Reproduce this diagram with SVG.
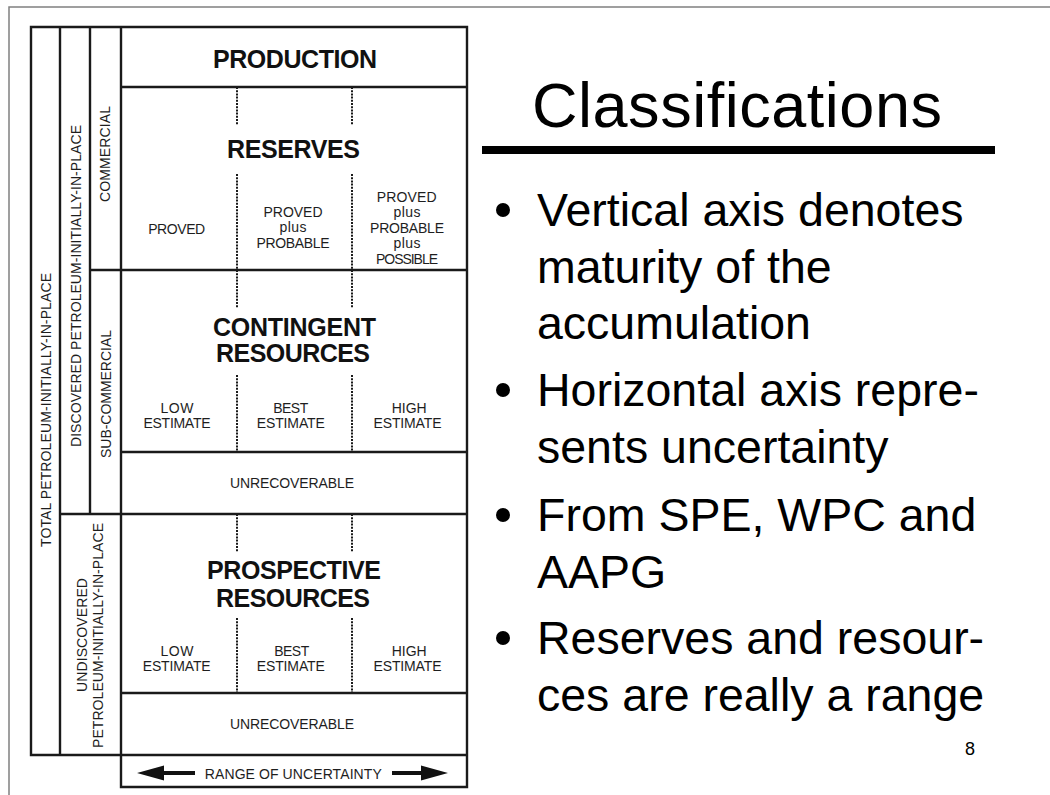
<svg xmlns="http://www.w3.org/2000/svg" width="1050" height="795" viewBox="0 0 1050 795">
<style>
.ln{stroke:#1a1a1a;stroke-width:2.4;fill:none;stroke-linecap:square}
.dt{stroke:#1a1a1a;stroke-width:2;fill:none;stroke-dasharray:2 1.2}
.big{font-family:"Liberation Sans",Arial,sans-serif;font-weight:bold;font-size:25px;fill:#111;text-anchor:middle}
.sm{font-family:"Liberation Sans",Arial,sans-serif;font-size:14px;fill:#1e1e1e;text-anchor:middle}
.vt{font-family:"Liberation Sans",Arial,sans-serif;font-size:14px;fill:#1e1e1e;text-anchor:middle}
.bl{font-family:"Liberation Sans",Arial,sans-serif;font-size:46.5px;fill:#000}
.ttl{font-family:"Liberation Sans",Arial,sans-serif;font-size:63px;fill:#000}
</style>
<rect x="0" y="0" width="1050" height="795" fill="#fff"/>
<g id="slide-frame"><path d="M9 795V7H1050" stroke="#808080" stroke-width="1.5" fill="none"/></g>

<g id="grid">
<path class="ln" d="M31 27H467V787H121V27M31 27V755H467M60 27V755M90 27V514M121 87H467M90 270H467M121 452H467M60 514H467M121 693H467"/>
</g>

<g id="connectors">
<path class="dt" d="M237 87V125M352 87V125M237 174V270M352 174V270M237 270V308M352 270V308M237 375V452M352 375V452M237 514V552M352 514V552M237 618V693M352 618V693"/>
</g>

<g id="axis-total">
<text class="vt" transform="translate(50.5,410) rotate(-90)" textLength="274" lengthAdjust="spacing">TOTAL PETROLEUM-INITIALLY-IN-PLACE</text>
</g>
<g id="axis-discovered">
<text class="vt" transform="translate(80.5,286) rotate(-90)" textLength="322" lengthAdjust="spacing">DISCOVERED PETROLEUM-INITIALLY-IN-PLACE</text>
</g>
<g id="axis-commercial">
<text class="vt" transform="translate(110,154) rotate(-90)" textLength="96" lengthAdjust="spacing">COMMERCIAL</text>
</g>
<g id="axis-subcommercial">
<text class="vt" transform="translate(110.5,394) rotate(-90)" textLength="128" lengthAdjust="spacing">SUB-COMMERCIAL</text>
</g>
<g id="axis-undiscovered">
<text class="vt" transform="translate(87,635) rotate(-90)" textLength="114" lengthAdjust="spacing">UNDISCOVERED</text>
<text class="vt" transform="translate(103,635.5) rotate(-90)" textLength="225" lengthAdjust="spacing">PETROLEUM-INITIALLY-IN-PLACE</text>
</g>

<g id="production">
<text class="big" x="295" y="68" textLength="164" lengthAdjust="spacing">PRODUCTION</text>
</g>

<g id="reserves">
<text class="big" x="293.5" y="158" textLength="133" lengthAdjust="spacing">RESERVES</text>
<text class="sm" x="176.7" y="234" textLength="57" lengthAdjust="spacing">PROVED</text>
<text class="sm" x="293" y="216.5" textLength="59" lengthAdjust="spacing">PROVED</text>
<text class="sm" x="293" y="232" textLength="27" lengthAdjust="spacing">plus</text>
<text class="sm" x="293" y="247.5" textLength="73" lengthAdjust="spacing">PROBABLE</text>
<text class="sm" x="406.7" y="201.5" textLength="60" lengthAdjust="spacing">PROVED</text>
<text class="sm" x="407" y="217" textLength="27" lengthAdjust="spacing">plus</text>
<text class="sm" x="407" y="232.5" textLength="74" lengthAdjust="spacing">PROBABLE</text>
<text class="sm" x="407" y="248" textLength="27" lengthAdjust="spacing">plus</text>
<text class="sm" x="407" y="263.5" textLength="62" lengthAdjust="spacing">POSSIBLE</text>
</g>

<g id="contingent">
<text class="big" x="294.5" y="336" textLength="163" lengthAdjust="spacing">CONTINGENT</text>
<text class="big" x="293" y="361.7" textLength="154" lengthAdjust="spacing">RESOURCES</text>
<text class="sm" x="177" y="412.7" textLength="33" lengthAdjust="spacing">LOW</text>
<text class="sm" x="177" y="427.7" textLength="67" lengthAdjust="spacing">ESTIMATE</text>
<text class="sm" x="290.7" y="412.7" textLength="35" lengthAdjust="spacing">BEST</text>
<text class="sm" x="290.8" y="427.7" textLength="68" lengthAdjust="spacing">ESTIMATE</text>
<text class="sm" x="409.2" y="412.7" textLength="35" lengthAdjust="spacing">HIGH</text>
<text class="sm" x="407.5" y="427.7" textLength="68" lengthAdjust="spacing">ESTIMATE</text>
</g>
<g id="unrecoverable-1">
<text class="sm" x="292" y="488" textLength="124" lengthAdjust="spacing">UNRECOVERABLE</text>
</g>

<g id="prospective">
<text class="big" x="294" y="579" textLength="174" lengthAdjust="spacing">PROSPECTIVE</text>
<text class="big" x="293" y="606.7" textLength="154" lengthAdjust="spacing">RESOURCES</text>
<text class="sm" x="177" y="655.7" textLength="33" lengthAdjust="spacing">LOW</text>
<text class="sm" x="176.7" y="670.7" textLength="68" lengthAdjust="spacing">ESTIMATE</text>
<text class="sm" x="291.7" y="655.7" textLength="35" lengthAdjust="spacing">BEST</text>
<text class="sm" x="290.8" y="670.7" textLength="68" lengthAdjust="spacing">ESTIMATE</text>
<text class="sm" x="409.2" y="655.7" textLength="35" lengthAdjust="spacing">HIGH</text>
<text class="sm" x="407.5" y="670.7" textLength="68" lengthAdjust="spacing">ESTIMATE</text>
</g>
<g id="unrecoverable-2">
<text class="sm" x="292" y="729" textLength="124" lengthAdjust="spacing">UNRECOVERABLE</text>
</g>

<g id="range-of-uncertainty">
<path d="M160 771H195V775H160Z M392 771H425V775H392Z" fill="#111"/>
<path d="M137 773L164 765.5V780.5Z M448 773L421 765.5V780.5Z" fill="#111"/>
<text class="sm" x="293.3" y="779.3" textLength="177" lengthAdjust="spacing">RANGE OF UNCERTAINTY</text>
</g>

<g id="title">
<text class="ttl" x="532" y="127" textLength="410" lengthAdjust="spacing">Classifications</text>
<rect x="482" y="146" width="513" height="8" fill="#000"/>
</g>

<g id="bullets">
<circle cx="503" cy="210" r="7"/>
<text class="bl" x="537" y="226">Vertical axis denotes</text>
<text class="bl" x="537" y="283">maturity of the</text>
<text class="bl" x="537" y="339">accumulation</text>
<circle cx="503" cy="390" r="7"/>
<text class="bl" x="537" y="406">Horizontal axis repre-</text>
<text class="bl" x="537" y="463">sents uncertainty</text>
<circle cx="503" cy="515" r="7"/>
<text class="bl" x="537" y="531">From SPE, WPC and</text>
<text class="bl" x="537" y="588">AAPG</text>
<circle cx="503" cy="638" r="7"/>
<text class="bl" x="537" y="654">Reserves and resour-</text>
<text class="bl" x="537" y="711">ces are really a range</text>
</g>

<g id="page-number">
<text x="970" y="755" font-family="Liberation Sans, Arial, sans-serif" font-size="18" text-anchor="middle" fill="#000">8</text>
</g>
</svg>
